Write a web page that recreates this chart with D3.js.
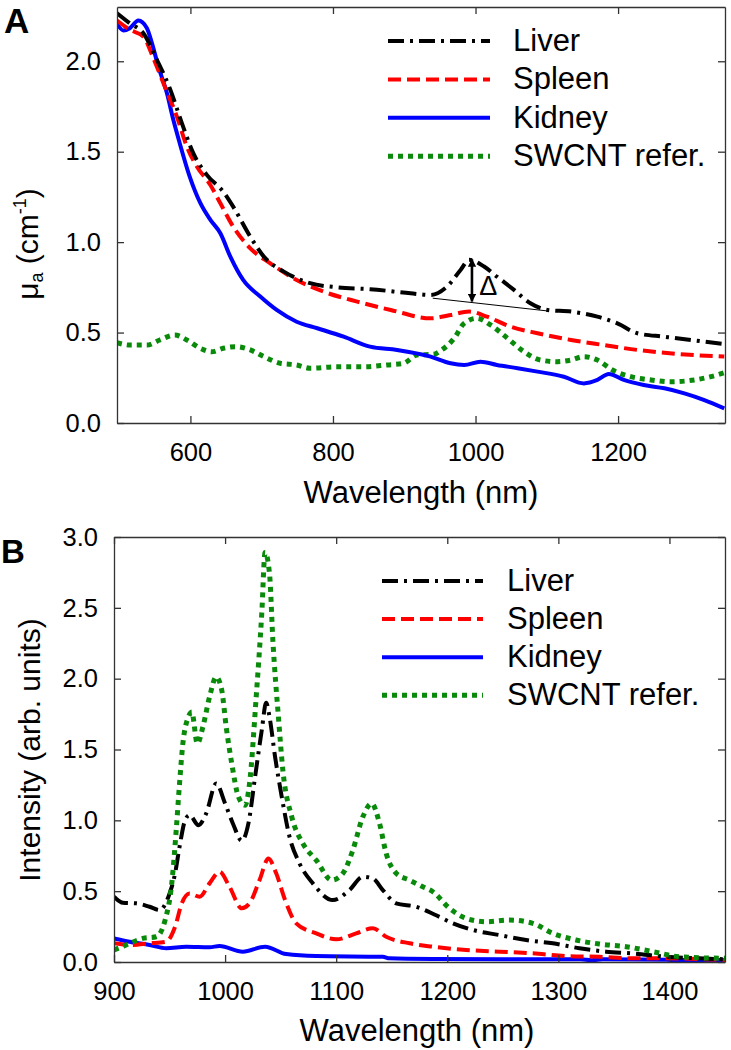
<!DOCTYPE html>
<html>
<head>
<meta charset="utf-8">
<script src="https://cdn.jsdelivr.net/npm/d3@7"></script>
<style>
  html, body { margin: 0; padding: 0; background: #fff; }
  svg text { font-family: Arial, "Liberation Sans", sans-serif; fill: #000; }
</style>
</head>
<body>
<svg id="chart" width="731" height="1050"></svg>
<script>
// ---------- Panel A data (absorption, mu_a in cm^-1) ----------
const liverAWl = [497,515,534,553,571,588,604,623,646,660,684,703,731,768,806,852,909,937,960,979,991,1012,1030,1054,1077,1101,1134,1171,1199,1227,1265,1302,1349];
const liverAVal = [2.266,2.21,2.155,2.008,1.851,1.658,1.492,1.372,1.279,1.196,1.030,0.920,0.837,0.773,0.750,0.740,0.717,0.708,0.754,0.846,0.902,0.865,0.809,0.736,0.662,0.625,0.616,0.588,0.551,0.496,0.477,0.459,0.437];

const spleenAWl = [497,515,534,548,564,581,595,609,628,642,660,684,712,749,787,834,881,937,965,991,1016,1049,1087,1134,1180,1227,1283,1349];
const spleenAVal = [2.225,2.174,2.137,2.017,1.860,1.694,1.528,1.418,1.316,1.215,1.086,0.966,0.883,0.791,0.726,0.671,0.625,0.579,0.597,0.616,0.588,0.533,0.496,0.459,0.431,0.404,0.382,0.367];

const kidneyAWl = [497,506,515,527,539,546,555,567,576,585,599,614,628,642,656,674,698,721,749,778,815,852,890,937,965,984,1007,1030,1059,1087,1124,1152,1171,1187,1208,1236,1265,1293,1321,1349];
const kidneyAVal = [2.207,2.170,2.183,2.225,2.183,2.100,1.971,1.824,1.676,1.547,1.362,1.215,1.123,1.049,0.920,0.791,0.699,0.625,0.560,0.524,0.477,0.422,0.404,0.367,0.330,0.321,0.339,0.321,0.303,0.284,0.256,0.219,0.238,0.271,0.238,0.210,0.192,0.164,0.127,0.081];

const swcntAWl = [497,515,539,557,578,595,614,630,646,663,684,703,726,749,768,806,843,876,899,918,941,951,970,984,1002,1021,1045,1068,1091,1115,1134,1152,1171,1192,1218,1246,1274,1307,1330,1349];
const swcntAVal = [0.444,0.431,0.431,0.459,0.487,0.459,0.413,0.394,0.413,0.422,0.404,0.367,0.330,0.321,0.303,0.311,0.311,0.321,0.330,0.376,0.38,0.40,0.468,0.551,0.579,0.542,0.468,0.394,0.348,0.339,0.348,0.367,0.348,0.293,0.256,0.238,0.228,0.238,0.256,0.278];

// Delta annotation (data coordinates)
const deltaBaseWl = [940, 1100];
const deltaBaseVal = [0.69, 0.62];
const deltaArrowWl = 995;
const deltaArrowVal = [0.905, 0.672];
const deltaLabelPos = [1018, 0.76];

// ---------- Panel B data (fluorescence intensity, arb. units) ----------
const liverBWl = [900,908,920,932,941,949,955,959,964,968,976,983,992,1000,1007,1015,1021,1027,1033,1037,1040,1045,1051,1058,1067,1079,1097,1112,1124,1133,1142,1154,1172,1190,1205,1223,1247,1271,1295,1319,1343,1367,1397,1427,1450];
const liverBVal = [0.461,0.418,0.414,0.390,0.367,0.461,0.626,0.813,1.001,1.037,0.966,1.049,1.260,1.119,0.978,0.856,0.978,1.307,1.636,1.83,1.730,1.448,1.166,0.884,0.696,0.555,0.437,0.508,0.602,0.590,0.508,0.414,0.390,0.330,0.273,0.226,0.190,0.155,0.132,0.097,0.073,0.061,0.037,0.026,0.019];

const spleenBWl = [900,914,932,947,955,961,968,977,986,995,1004,1015,1022,1031,1039,1046,1054,1064,1082,1100,1118,1133,1145,1166,1187,1217,1247,1277,1307,1337,1367,1397,1450];
const spleenBVal = [0.132,0.120,0.132,0.143,0.249,0.414,0.484,0.461,0.555,0.637,0.531,0.379,0.414,0.578,0.73,0.626,0.437,0.273,0.202,0.160,0.202,0.238,0.178,0.132,0.108,0.085,0.073,0.061,0.042,0.037,0.026,0.026,0.014];

const kidneyBWl = [900,914,932,947,965,986,995,1016,1036,1055,1082,1142,1148,1190,1250,1320,1330,1340,1400,1450];
const kidneyBVal = [0.167,0.143,0.120,0.097,0.108,0.104,0.113,0.073,0.108,0.056,0.042,0.037,0.026,0.021,0.019,0.019,0.012,0.019,0.015,0.015];

const swcntBWl = [900,911,926,938,946,952,956,959,962,967,970,975,980,986,992,997,1001,1006,1012,1018,1022,1028,1033,1036,1040,1043,1048,1052,1060,1070,1082,1096,1106,1115,1124,1132,1139,1145,1154,1166,1178,1187,1202,1217,1235,1256,1277,1295,1316,1337,1361,1385,1409,1450];
const swcntBVal = [0.085,0.120,0.167,0.178,0.296,0.555,0.931,1.260,1.542,1.730,1.765,1.542,1.659,1.871,2.012,1.918,1.659,1.401,1.166,1.107,1.260,1.871,2.459,2.89,2.741,2.271,1.730,1.354,1.025,0.837,0.719,0.578,0.626,0.790,1.025,1.119,0.978,0.767,0.626,0.578,0.531,0.496,0.379,0.308,0.284,0.296,0.273,0.202,0.155,0.127,0.108,0.073,0.037,0.026];

// ---------- Ticks & legend ----------
const xTicksA = [600, 800, 1000, 1200];
const yTicksA = [0, 0.5, 1.0, 1.5, 2.0];
const xTicksB = [900, 1000, 1100, 1200, 1300, 1400];
const yTicksB = [0, 0.5, 1.0, 1.5, 2.0, 2.5, 3.0];
const seriesNames = ["Liver", "Spleen", "Kidney", "SWCNT refer."];

// ---------- Styles ----------
const styles = {
  "Liver":        { color: "#000000", dash: "16,6,3,6", width: 4 },
  "Spleen":       { color: "#ff0000", dash: "13,6",     width: 4 },
  "Kidney":       { color: "#0000ff", dash: null,       width: 4 },
  "SWCNT refer.": { color: "#0a8a0a", dash: "5,5",      width: 5 }
};

const svg = d3.select("#chart");
svg.append("rect").attr("width", 731).attr("height", 1050).attr("fill", "#fff");

const TICK_FONT = 25.5, TITLE_FONT = 31, LEGEND_FONT = 31;

function zip(w, v) { return w.map((d, i) => [d, v[i]]); }

function drawPanel(cfg) {
  const { x, y, xTicks, yTicks, series, clipId } = cfg;
  const [x0, x1] = x.range();
  const [y0, y1] = y.range(); // y0 bottom, y1 top
  const g = svg.append("g");

  g.append("clipPath").attr("id", clipId)
    .append("rect").attr("x", x0).attr("y", y1).attr("width", x1 - x0).attr("height", y0 - y1);

  const line = d3.line().x(d => x(d[0])).y(d => y(d[1])).curve(d3.curveMonotoneX);

  const lines = g.append("g").attr("clip-path", `url(#${clipId})`);
  series.forEach(s => {
    const st = styles[s.name];
    lines.append("path")
      .datum(zip(s.wl, s.val))
      .attr("d", line)
      .attr("fill", "none")
      .attr("stroke", st.color)
      .attr("stroke-width", st.width)
      .attr("stroke-dasharray", st.dash)
      .attr("stroke-linejoin", "round");
  });

  // axes with inward ticks on all four sides
  const fmtY = d3.format(".1f");
  const bottom = g.append("g").attr("transform", `translate(0,${y0})`)
    .call(d3.axisBottom(x).tickValues(xTicks).tickSize(-7).tickSizeOuter(0).tickPadding(20).tickFormat(d3.format("d")));
  const left = g.append("g").attr("transform", `translate(${x0},0)`)
    .call(d3.axisLeft(y).tickValues(yTicks).tickSize(-7).tickSizeOuter(0).tickPadding(16).tickFormat(fmtY));
  const top = g.append("g").attr("transform", `translate(0,${y1})`)
    .call(d3.axisTop(x).tickValues(xTicks).tickSize(-7).tickSizeOuter(0).tickFormat(""));
  const right = g.append("g").attr("transform", `translate(${x1},0)`)
    .call(d3.axisRight(y).tickValues(yTicks).tickSize(-7).tickSizeOuter(0).tickFormat(""));

  [bottom, left, top, right].forEach(a => {
    a.selectAll("path.domain").attr("stroke", "#333").attr("stroke-width", 1.3);
    a.selectAll(".tick line").attr("stroke", "#333").attr("stroke-width", 1.3);
    a.selectAll(".tick text").attr("font-size", TICK_FONT)
      .attr("font-family", 'Arial, "Liberation Sans", sans-serif').attr("fill", "#000");
  });
  return g;
}

function drawLegend(lx0, lx1, tx, firstLineY, step) {
  const g = svg.append("g");
  seriesNames.forEach((name, i) => {
    const st = styles[name];
    const yy = firstLineY + i * step;
    g.append("line")
      .attr("x1", lx0).attr("x2", lx1).attr("y1", yy).attr("y2", yy)
      .attr("stroke", st.color).attr("stroke-width", st.width)
      .attr("stroke-dasharray", st.dash);
    g.append("text").attr("x", tx).attr("y", yy + 10)
      .attr("font-size", LEGEND_FONT).text(name);
  });
}

// ---------- Panel A ----------
const xA = d3.scaleLinear().domain([497, 1350]).range([117, 725]);
const yA = d3.scaleLinear().domain([0, 2.3]).range([423, 7]);
drawPanel({
  x: xA, y: yA, xTicks: xTicksA, yTicks: yTicksA, clipId: "clipA",
  series: [
    { name: "SWCNT refer.", wl: swcntAWl, val: swcntAVal },
    { name: "Kidney", wl: kidneyAWl, val: kidneyAVal },
    { name: "Spleen", wl: spleenAWl, val: spleenAVal },
    { name: "Liver", wl: liverAWl, val: liverAVal }
  ]
});

// Delta annotation
svg.append("defs").html(
  '<marker id="arrowHead" viewBox="0 0 10 10" refX="9" refY="5" markerWidth="3.2" markerHeight="3.2" orient="auto-start-reverse">' +
  '<path d="M0,0 L10,5 L0,10 z" fill="#000"/></marker>');
svg.append("line")
  .attr("x1", xA(deltaBaseWl[0])).attr("y1", yA(deltaBaseVal[0]))
  .attr("x2", xA(deltaBaseWl[1])).attr("y2", yA(deltaBaseVal[1]))
  .attr("stroke", "#000").attr("stroke-width", 1);
svg.append("line")
  .attr("x1", xA(deltaArrowWl)).attr("y1", yA(deltaArrowVal[0]))
  .attr("x2", xA(deltaArrowWl)).attr("y2", yA(deltaArrowVal[1]))
  .attr("stroke", "#000").attr("stroke-width", 2.6)
  .attr("marker-start", "url(#arrowHead)").attr("marker-end", "url(#arrowHead)");
svg.append("text")
  .attr("x", xA(deltaLabelPos[0])).attr("y", yA(deltaLabelPos[1]))
  .attr("text-anchor", "middle").attr("dominant-baseline", "central")
  .attr("font-size", 27).attr("font-family", '"DejaVu Sans", sans-serif').attr("font-weight", 200)
  .text("Δ");

drawLegend(388, 490, 513, 41, 38.4);

// Axis titles A
svg.append("text").attr("x", 421).attr("y", 503).attr("text-anchor", "middle")
  .attr("font-size", TITLE_FONT).text("Wavelength (nm)");
const yTitleA = svg.append("text")
  .attr("transform", "translate(38,244) rotate(-90)")
  .attr("text-anchor", "middle").attr("font-size", TITLE_FONT - 1);
yTitleA.append("tspan").text("μ");
yTitleA.append("tspan").attr("font-size", 18).attr("dy", 5).text("a");
yTitleA.append("tspan").attr("dy", -5).text(" (cm");
yTitleA.append("tspan").attr("font-size", 18).attr("dy", -12).text("-1");
yTitleA.append("tspan").attr("dy", 12).text(")");

svg.append("text").attr("x", 4).attr("y", 33)
  .attr("font-size", 35).attr("font-weight", "bold").text("A");

// ---------- Panel B ----------
const xB = d3.scaleLinear().domain([900, 1450]).range([114, 725]);
const yB = d3.scaleLinear().domain([0, 3]).range([962, 537]);
drawPanel({
  x: xB, y: yB, xTicks: xTicksB, yTicks: yTicksB, clipId: "clipB",
  series: [
    { name: "Kidney", wl: kidneyBWl, val: kidneyBVal },
    { name: "Spleen", wl: spleenBWl, val: spleenBVal },
    { name: "Liver", wl: liverBWl, val: liverBVal },
    { name: "SWCNT refer.", wl: swcntBWl, val: swcntBVal }
  ]
});

drawLegend(382, 483, 507, 581, 38.1);

svg.append("text").attr("x", 417).attr("y", 1041).attr("text-anchor", "middle")
  .attr("font-size", TITLE_FONT).text("Wavelength (nm)");
svg.append("text")
  .attr("transform", "translate(40,750) rotate(-90)")
  .attr("text-anchor", "middle").attr("font-size", TITLE_FONT - 1)
  .text("Intensity (arb. units)");

svg.append("text").attr("x", 1).attr("y", 563)
  .attr("font-size", 33).attr("font-weight", "bold").text("B");
</script>
</body>
</html>
